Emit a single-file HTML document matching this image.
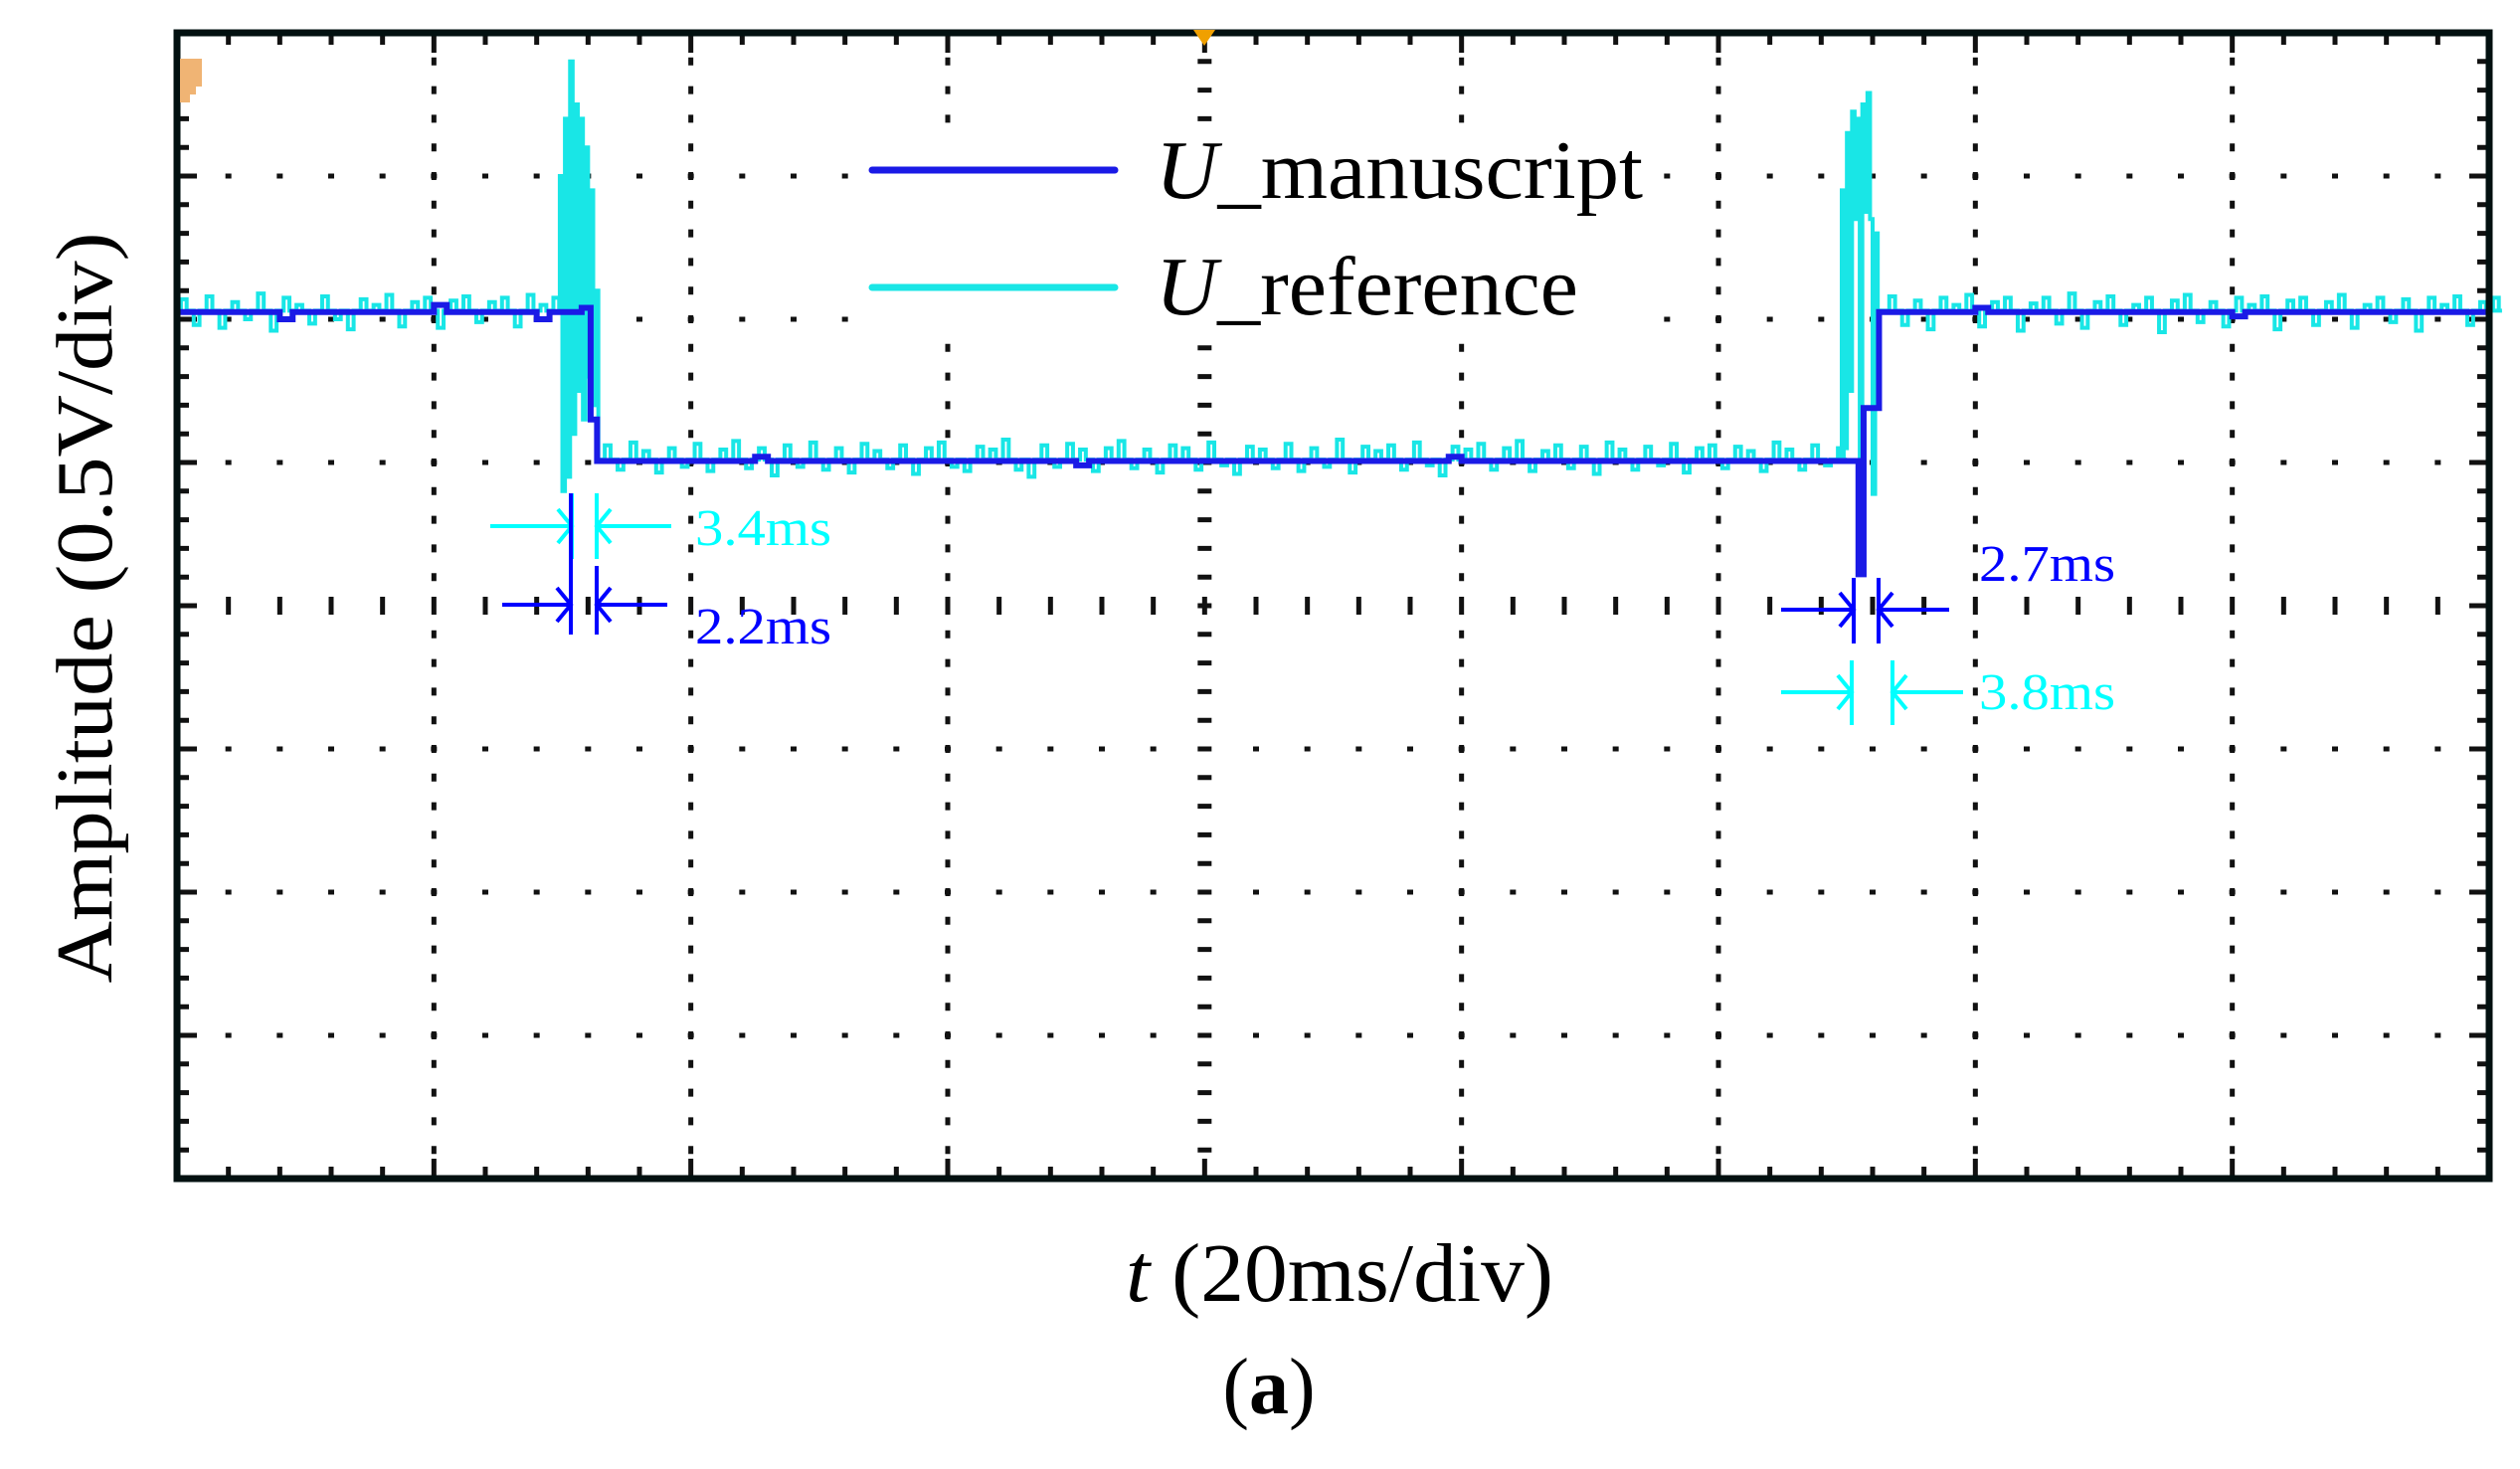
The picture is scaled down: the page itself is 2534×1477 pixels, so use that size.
<!DOCTYPE html>
<html><head><meta charset="utf-8"><style>
html,body{margin:0;padding:0;background:#fff;}
svg{display:block;}
</style></head><body>
<svg id="chart" width="2534" height="1477" viewBox="0 0 2534 1477" xmlns="http://www.w3.org/2000/svg">
<rect x="0" y="0" width="2534" height="1477" fill="#fff"/>
<g id="grid"></g>
<g id="series"></g>
<g id="legend">
<rect x="853" y="125" width="820" height="208" fill="#fff"/>
<line x1="877" y1="171" x2="1121" y2="171" stroke="#1a1ae6" stroke-width="7" stroke-linecap="round"/>
<line x1="877" y1="289" x2="1121" y2="289" stroke="#19e6e6" stroke-width="7" stroke-linecap="round"/>
<text x="1162" y="199" font-family="Liberation Serif, serif" font-size="84" textLength="490" lengthAdjust="spacingAndGlyphs" fill="#000"><tspan font-style="italic">U</tspan>_manuscript</text>
<text x="1162" y="316" font-family="Liberation Serif, serif" font-size="84" textLength="425" lengthAdjust="spacingAndGlyphs" fill="#000"><tspan font-style="italic">U</tspan>_reference</text>
</g>
<g id="annot"></g>
<rect x="178" y="33" width="2325" height="1152" fill="none" stroke="#021010" stroke-width="7"/>
<polygon points="1200,30 1222,30 1211,46" fill="#f0a000"/>
<path d="M181,59 h22 v28 h-6 v8 h-6 v8 h-10 z" fill="#f0b474"/>
<text transform="translate(112,611) rotate(-90)" text-anchor="middle" font-family="Liberation Serif, serif" font-size="80" textLength="755" lengthAdjust="spacingAndGlyphs" fill="#000">Amplitude (0.5V/div)</text>
<text x="1347" y="1308" text-anchor="middle" font-family="Liberation Serif, serif" font-size="84" textLength="430" lengthAdjust="spacingAndGlyphs" fill="#000"><tspan font-style="italic">t</tspan> (20ms/div)</text>
<text x="1276" y="1421" text-anchor="middle" font-family="Liberation Serif, serif" font-size="80" fill="#000">(<tspan font-weight="bold">a</tspan>)</text>
</svg>
<script>
// ---- data (time in ms, amplitude in divisions relative to centre line) ----
const blueT = [0,8,9,20,21,28,29,31.5,32.2,32.7,45,46,70,71,99,100,128,130.9,131.3,132.5,140,141,160,161,180];
const blueV = [2.05,2.0,2.05,2.1,2.05,2.0,2.05,2.08,1.3,1.01,1.04,1.01,0.98,1.01,1.04,1.01,1.01,0.22,1.38,2.05,2.08,2.05,2.02,2.05,2.05];
const cyanHiBase = 2.06;
const cyanLoBase = 1.02;
const cyanHi1Start = 0;
const cyanHi1 = [2.14,1.96,2.16,1.94,2.12,2.0,2.18,1.92,2.15,2.1,1.97,2.16,2.0,1.93,2.14,2.1,2.17,1.95,2.12,2.15,1.94,2.13,2.16,1.98,2.12,2.15,1.95,2.17,2.1,2.15];
const spike1T = [29.8,30.0,30.2,30.4,30.6,30.8,31.0,31.2,31.4,31.6,31.8,32.0,32.2,32.4,32.6,32.8];
const spike1V = [3.0,0.8,3.4,0.9,3.8,1.2,3.5,1.5,3.4,1.3,3.2,1.6,2.9,1.4,2.2,1.05];
const cyanLoStart = 33;
const cyanLo = [1.12,0.95,1.14,1.08,0.93,1.1,0.97,1.13,0.94,1.09,1.15,0.96,1.1,0.91,1.12,0.97,1.14,0.95,1.1,0.93,1.13,1.08,0.96,1.12,0.92,1.1,1.14,0.97,0.94,1.11,
1.09,1.16,0.95,0.9,1.12,0.97,1.13,1.09,0.94,1.1,1.15,0.96,1.09,0.93,1.12,1.1,0.95,1.14,0.98,0.92,1.11,1.09,0.96,1.13,0.94,1.1,0.97,1.16,0.93,1.11,
1.08,1.12,0.95,1.14,0.98,0.91,1.11,1.09,1.13,0.95,1.1,1.15,0.94,1.08,1.12,0.96,1.11,0.92,1.14,1.09,0.95,1.11,0.98,1.13,0.93,1.1,1.12,0.96,1.11,1.08,
0.94,1.14,1.09,0.95,1.12,0.98,1.1];
const spike2T = [129.6,129.8,130.0,130.2,130.4,130.6,130.8,131.0,131.2,131.4,131.6,131.8,132.0,132.2,132.4];
const spike2V = [2.9,1.1,3.3,1.5,3.45,2.7,3.4,1.0,3.5,2.75,3.58,2.7,0.78,2.6,1.72];
const cyanHi2Start = 133;
const cyanHi2 = [2.16,1.96,2.13,1.93,2.15,2.1,2.17,1.95,2.12,2.15,1.92,2.11,2.15,1.97,2.18,1.94,2.12,2.16,1.96,2.1,2.15,1.91,2.13,2.17,1.98,2.12,1.95,2.15,2.1,2.16,
1.93,2.13,2.15,1.96,2.12,2.17,1.94,2.1,2.15,1.98,2.14,1.92,2.15,2.1,2.16,1.96,2.12,2.15];

// ---- scales ----
const X0 = 178, X1 = 2503, Y0 = 33, Y1 = 1185, TMAX = 180;
const xs = t => X0 + t * (X1 - X0) / TMAX;
const ys = v => (Y0 + Y1) / 2 - v * (Y1 - Y0) / 8;
const NS = 'http://www.w3.org/2000/svg';
function mk(tag, attrs, parent) {
  const e = document.createElementNS(NS, tag);
  for (const k in attrs) e.setAttribute(k, attrs[k]);
  parent.appendChild(e);
  return e;
}

// ---- grid ----
const grid = document.getElementById('grid');
const dx = (X1 - X0) / 9, dy = (Y1 - Y0) / 8;
let gp = '';
for (let i = 1; i < 9; i++) {
  const x = X0 + i * dx;
  for (let j = 1; j < 40; j++) {
    const y = Y0 + j * dy / 5;
    if (i === 4) gp += `M${x - 7},${y}h14`;
    else gp += `M${x},${y - 4}v8`;
  }
}
for (let j = 1; j < 8; j++) {
  const y = Y0 + j * dy;
  for (let i = 1; i < 45; i++) {
    const x = X0 + i * dx / 5;
    if (j === 4) gp += `M${x},${y - 9}v18`;
    else gp += `M${x - 3},${y}h6`;
  }
}
for (let i = 1; i < 45; i++) {
  const x = X0 + i * dx / 5;
  const L = (i % 5 === 0) ? 20 : 12;
  gp += `M${x},${Y0}v${L}M${x},${Y1}v${-L}`;
}
for (let j = 1; j < 40; j++) {
  const y = Y0 + j * dy / 5;
  const L = (j % 5 === 0) ? 20 : 12;
  gp += `M${X0},${y}h${L}M${X1},${y}h${-L}`;
}
const gridPath = mk('path', {d: gp, stroke: '#111', 'stroke-width': 5, fill: 'none'}, grid);



// ---- series ----
const series = document.getElementById('series');
let cd = `M${xs(0)},${ys(cyanHiBase)}`;
function noise(start, arr, base) {
  arr.forEach((v, i) => {
    const t = start + i;
    cd += `H${xs(t + 0.3)}V${ys(v)}H${xs(t + 0.75)}V${ys(base)}`;
  });
  cd += `H${xs(start + arr.length)}`;
}
function spikes(tArr, vArr) {
  tArr.forEach((t, i) => { cd += `H${xs(t)}V${ys(vArr[i])}`; });
}
noise(cyanHi1Start, cyanHi1, cyanHiBase);
spikes(spike1T, spike1V);
cd += `V${ys(cyanLoBase)}`;
noise(cyanLoStart, cyanLo, cyanLoBase);
spikes(spike2T, spike2V);
cd += `V${ys(cyanHiBase)}`;
noise(cyanHi2Start, cyanHi2, cyanHiBase);
cd += `H${xs(TMAX)}`;
const cyanPath = mk('path', {d: cd, stroke: '#19e6e6', 'stroke-width': 4, fill: 'none'}, series);



let bd = `M${xs(blueT[0])},${ys(blueV[0])}`;
for (let i = 1; i < blueT.length; i++) {
  bd += `H${xs(blueT[i])}V${ys(blueV[i])}`;
}
const bluePath = mk('path', {d: bd, stroke: '#1a1ae6', 'stroke-width': 6, fill: 'none'}, series);



// ---- annotations ----
const annot = document.getElementById('annot');
function dim(y, xa, xb, left, right, vTop, vBot, col, name) {
  const g = mk('g', {stroke: col, 'stroke-width': 4, fill: 'none'}, annot);
  
  
  mk('path', {d: `M${left},${y}H${xa}M${xa - 14},${y - 17}L${xa},${y}L${xa - 14},${y + 17}` +
    `M${right},${y}H${xb}M${xb + 14},${y - 17}L${xb},${y}L${xb + 14},${y + 17}` +
    `M${xa},${vTop[0]}V${vBot[0]}M${xb},${vTop[1]}V${vBot[1]}`}, g);
}
dim(529, 575, 600, 493, 675, [496, 496], [562, 562], '#00ffff', 'dimension-3-4ms');
dim(608, 574, 600, 505, 671, [496, 569], [638, 638], '#0000ff', 'dimension-2-2ms');
dim(613, 1864, 1889, 1791, 1960, [581, 581], [647, 647], '#0000ff', 'dimension-2-7ms');
dim(696, 1862, 1903, 1791, 1974, [664, 664], [729, 729], '#00ffff', 'dimension-3-8ms');
const labels = [['3.4ms', 699, 548, '#00ffff', 'label-3-4ms'], ['2.2ms', 699, 647, '#0000ff', 'label-2-2ms'],
  ['2.7ms', 1990, 584, '#0000ff', 'label-2-7ms'], ['3.8ms', 1990, 713, '#00ffff', 'label-3-8ms']];
labels.forEach(l => {
  const t = mk('text', {x: l[1], y: l[2], fill: l[3], 'font-family': 'Liberation Serif, serif', 'font-size': 52,
    textLength: 137, lengthAdjust: 'spacingAndGlyphs'}, annot);
  t.textContent = l[0];
  
  
});
</script>
</body></html>
